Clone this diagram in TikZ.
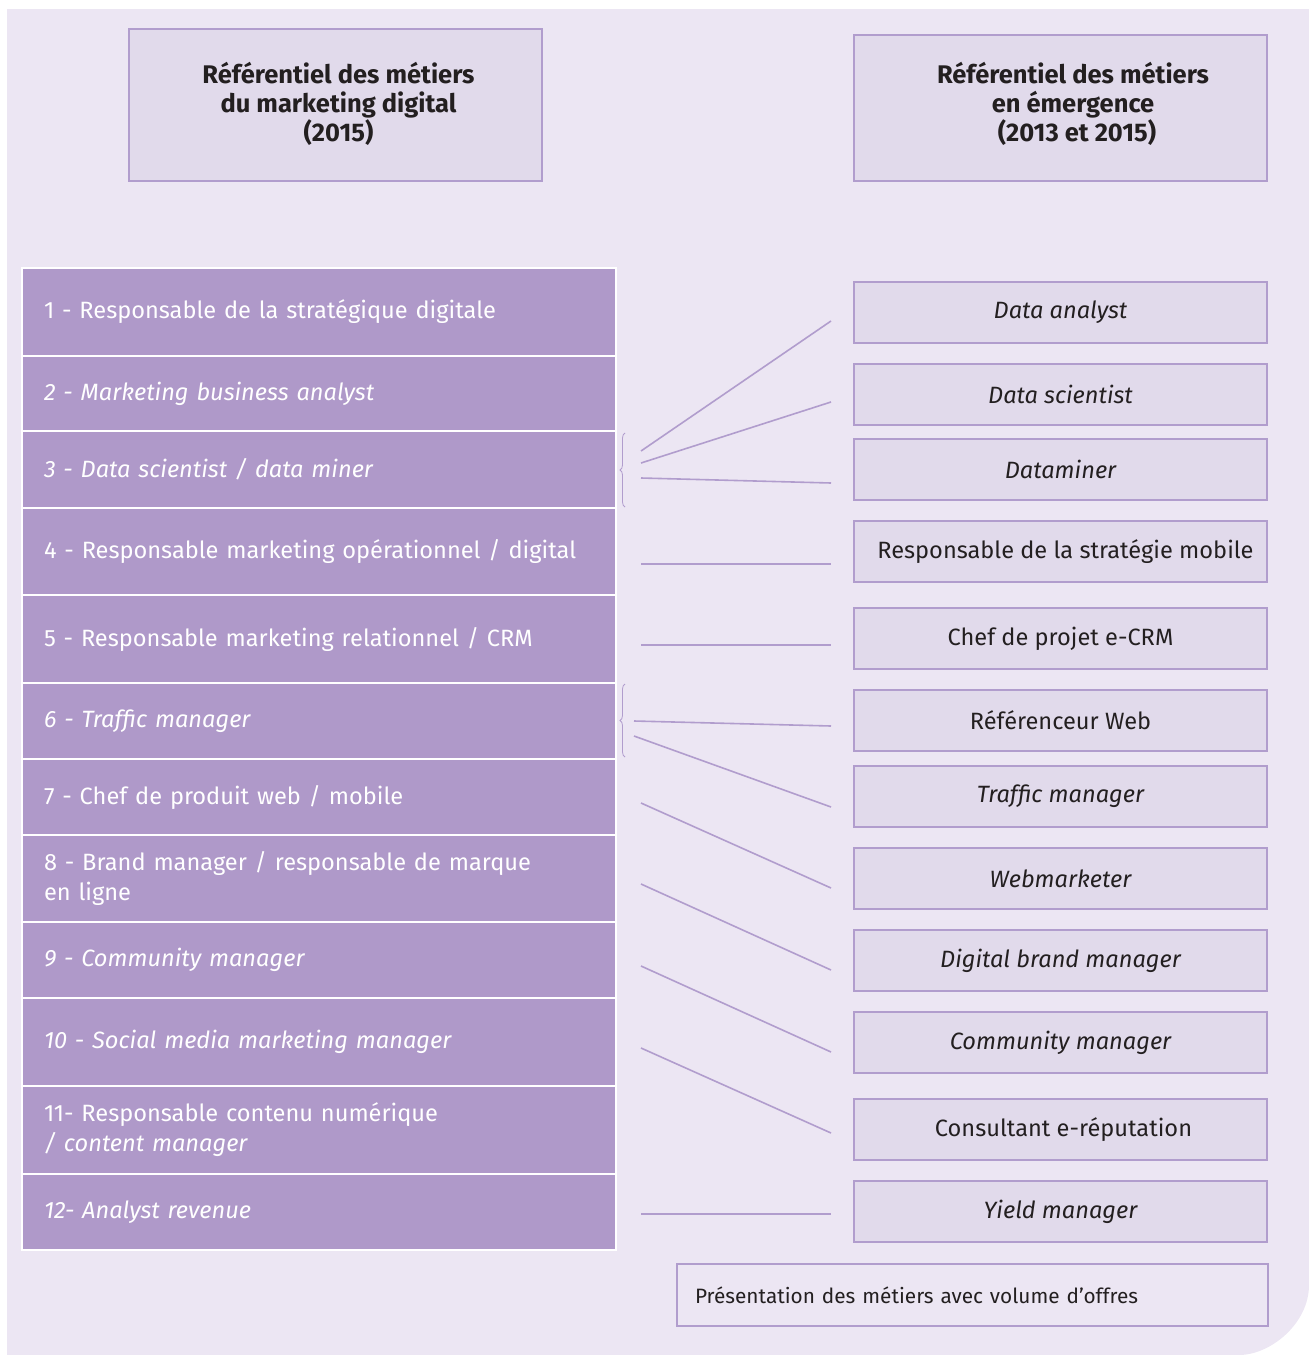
\documentclass[tikz,border=0pt]{standalone}
\usepackage{fontspec}
\setmainfont{Fira Sans}
\usetikzlibrary{decorations.pathreplacing}
\definecolor{bgc}{HTML}{ECE6F3}
\definecolor{boxc}{HTML}{E1DAEB}
\definecolor{bord}{HTML}{B19DCD}
\definecolor{rowc}{HTML}{AF99C9}
\definecolor{txt}{HTML}{231F20}
\begin{document}
\begin{tikzpicture}[x=1pt,y=-1pt,
  rowbox/.style={fill=rowc, draw=white, line width=2.5pt, minimum width=594pt, text width=550pt, align=left, inner xsep=22pt, inner ysep=0pt, text=white, font=\fontsize{23.6}{30}\selectfont},
  rbox/.style={fill=boxc, draw=bord, line width=2.5pt, minimum width=413pt, minimum height=61pt, inner sep=0pt, text=txt, font=\fontsize{23.6}{30}\selectfont},
  headbox/.style={fill=boxc, draw=bord, line width=2.5pt, minimum width=413pt, inner sep=0pt},
  headtxt/.style={align=center, text=txt, font=\fontsize{25.5}{29}\selectfont\bfseries},
  conn/.style={draw=bord, line width=1.6pt},
  brc/.style={draw=bord, line width=0.8pt, decorate, decoration={brace, amplitude=5pt}}]
\useasboundingbox (0,0) rectangle (1309,1355);
\fill[bgc] (7,9) -- (1309,9) -- (1309,1285) .. controls (1309,1323.7) and (1270.3,1355) .. (1239,1355) -- (7,1355) -- cycle;

% headers
\node[headbox, minimum height=152pt] (hl) at (335.5,105) {};
\node[headtxt] (hlt) at (338.5,104) {Référentiel des métiers\\du marketing digital\\(2015)};
\node[headbox, minimum height=146pt] (hr) at (1060.5,108) {};
\node[headtxt] (hrt) at (1073,104) {Référentiel des métiers\\en émergence\\\hspace*{8pt}(2013 et 2015)};

% left rows
\node[rowbox, minimum height=88pt] (r1) at (319,312) {1 - Responsable de la stratégique digitale};
\node[rowbox, minimum height=75pt] (r2) at (319,393.5) {\itshape 2 - Marketing business analyst};
\node[rowbox, minimum height=77pt] (r3) at (319,469.5) {\itshape 3 - Data scientist / data miner};
\node[rowbox, minimum height=87pt] (r4) at (319,551.5) {4 - Responsable marketing opérationnel / digital};
\node[rowbox, minimum height=88pt] (r5) at (319,639) {5 - Responsable marketing relationnel / CRM};
\node[rowbox, minimum height=76pt] (r6) at (319,721) {\itshape 6 - Traffic manager};
\node[rowbox, minimum height=76pt] (r7) at (319,797) {7 - Chef de produit web / mobile};
\node[rowbox, minimum height=87pt] (r8) at (319,878.5) {8 - Brand manager / responsable de marque\\en ligne};
\node[rowbox, minimum height=76pt] (r9) at (319,960) {\itshape 9 - Community manager};
\node[rowbox, minimum height=88pt] (r10) at (319,1042) {\itshape 10 - Social media marketing manager};
\node[rowbox, minimum height=88pt] (r11) at (319,1130) {11- Responsable contenu numérique\\\itshape / content manager};
\node[rowbox, minimum height=76pt] (r12) at (319,1212) {\itshape 12- Analyst revenue\\[-6pt]};

% right boxes
\node[rbox] (b1) at (1060.5,312.5) {\itshape Data analyst};
\node[rbox] (b2) at (1060.5,394.5) {\itshape Data scientist};
\node[rbox] (b3) at (1060.5,469.5) {\itshape Dataminer};
\node[rbox] (b4) at (1060.5,551.5) {\hspace*{10pt}Responsable de la stratégie mobile};
\node[rbox] (b5) at (1060.5,638.5) {Chef de projet e-CRM};
\node[rbox] (b6) at (1060.5,720.5) {Référenceur Web};
\node[rbox] (b7) at (1060.5,796.5) {\itshape Traffic manager};
\node[rbox] (b8) at (1060.5,878.5) {\itshape Webmarketer};
\node[rbox] (b9) at (1060.5,960.5) {\itshape Digital brand manager};
\node[rbox] (b10) at (1060.5,1042.5) {\itshape Community manager};
\node[rbox] (b11) at (1060.5,1129.5) {\hspace*{6pt}Consultant e-réputation};
\node[rbox] (b12) at (1060.5,1211.5) {\itshape Yield manager};

% legend
\node[draw=bord, line width=2.5pt, fill=bgc, minimum width=591pt, minimum height=62pt, text width=555pt, align=left, inner xsep=18pt, text=txt, font=\fontsize{20.8}{24}\selectfont] (leg) at (972.5,1295) {Présentation des métiers avec volume d’offres};

% braces
\draw[brc] (625,507) -- (625,433);
\draw[brc] (625,757) -- (625,684);

% connector end points
\coordinate (s1) at (641,451);  \coordinate (e1) at (831,321);
\coordinate (s2) at (641,463);  \coordinate (e2) at (831,402);
\coordinate (s3) at (641,478);  \coordinate (e3) at (831,483);
\coordinate (s4) at (641,564);  \coordinate (e4) at (831,564);
\coordinate (s5) at (641,645);  \coordinate (e5) at (831,645);
\coordinate (s6) at (634,721);  \coordinate (e6) at (831,726);
\coordinate (s7) at (634,736);  \coordinate (e7) at (831,807);
\coordinate (s8) at (641,803);  \coordinate (e8) at (831,888);
\coordinate (s9) at (641,884);  \coordinate (e9) at (831,970);
\coordinate (s10) at (641,966); \coordinate (e10) at (831,1052);
\coordinate (s11) at (641,1048);\coordinate (e11) at (831,1133);
\coordinate (s12) at (641,1214);\coordinate (e12) at (831,1214);
\foreach \i in {1,...,12} {\draw[conn] (s\i) -- (e\i);}
\end{tikzpicture}
\end{document}
